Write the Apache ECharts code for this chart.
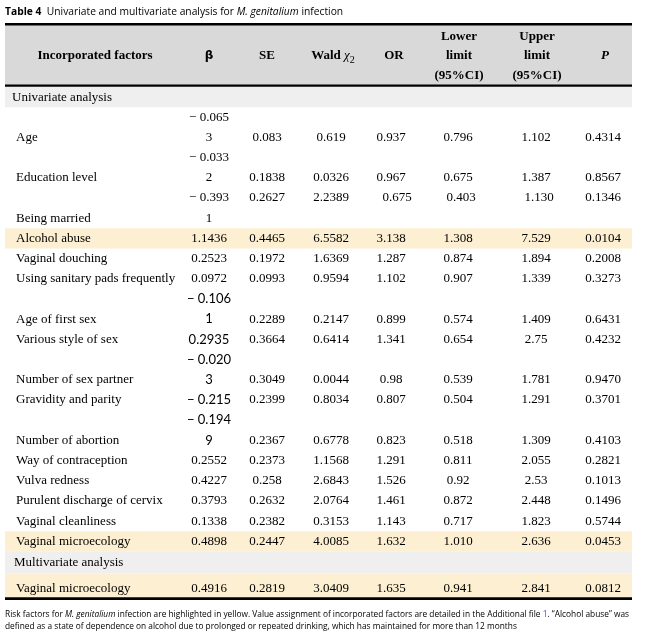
<!DOCTYPE html>
<html><head><meta charset="utf-8">
<script src="https://cdn.jsdelivr.net/npm/echarts@6/dist/echarts.min.js"></script>
<style>html,body{margin:0;padding:0;background:#fff}#c{width:646px;height:637px}</style>
</head><body><div id="c"></div>
<script>
// ===== DATA =====
const sections = ["Univariate analysis", "Multivariate analysis"];
const uniFactors = ["Age","Education level","Being married","Alcohol abuse","Vaginal douching","Using sanitary pads frequently","Age of first sex","Various style of sex","Number of sex partner","Gravidity and parity","Number of abortion","Way of contraception","Vulva redness","Purulent discharge of cervix","Vaginal cleanliness","Vaginal microecology"];
const uniBeta  = ["−0.0653","−0.0332","−0.3931","1.1436","0.2523","0.0972","−0.1061","0.2935","−0.0203","−0.215","−0.1949","0.2552","0.4227","0.3793","0.1338","0.4898"];
const uniSE    = ["0.083","0.1838","0.2627","0.4465","0.1972","0.0993","0.2289","0.3664","0.3049","0.2399","0.2367","0.2373","0.258","0.2632","0.2382","0.2447"];
const uniWald  = ["0.619","0.0326","2.2389","6.5582","1.6369","0.9594","0.2147","0.6414","0.0044","0.8034","0.6778","1.1568","2.6843","2.0764","0.3153","4.0085"];
const uniOR    = ["0.937","0.967","0.675","3.138","1.287","1.102","0.899","1.341","0.98","0.807","0.823","1.291","1.526","1.461","1.143","1.632"];
const uniLower = ["0.796","0.675","0.403","1.308","0.874","0.907","0.574","0.654","0.539","0.504","0.518","0.811","0.92","0.872","0.717","1.010"];
const uniUpper = ["1.102","1.387","1.130","7.529","1.894","1.339","1.409","2.75","1.781","1.291","1.309","2.055","2.53","2.448","1.823","2.636"];
const uniP     = ["0.4314","0.8567","0.1346","0.0104","0.2008","0.3273","0.6431","0.4232","0.9470","0.3701","0.4103","0.2821","0.1013","0.1496","0.5744","0.0453"];
const multiFactors = ["Vaginal microecology"];
const multiBeta  = ["0.4916"];
const multiSE    = ["0.2819"];
const multiWald  = ["3.0409"];
const multiOR    = ["1.635"];
const multiLower = ["0.941"];
const multiUpper = ["2.841"];
const multiP     = ["0.0812"];
const riskFactors = ["Alcohol abuse", "Vaginal microecology"]; // highlighted in yellow

// ===== LAYOUT (positions / styles only) =====
const U = 20.19;                 // px per row slot
const yMin = -3.2, yMax = 25.4;
const tableX0 = 5, tableX1 = 632;
const colX = [16, 209, 267, 331, 391, 458, 536, 603];
const headX = [95, 209, 267, 333, 394, 459, 537, 605];
const uniLabelSlot = [2,4,6,7,8,9,11,12,14,15,17,18,19,20,21,22];
const uniValueSlot = [2,4,5,7,8,9,11,12,14,15,17,18,19,20,21,22];
const betaWrap = [1,1,1,0,0,0,1,0,1,0,1,0,0,0,0,0];
const betaSans = [0,0,0,0,0,0,1,1,1,1,1,0,0,0,0,0];
const rowNudge = { 2: [0, 0, 6, 3, 3, 0] }; // px shifts of SE..P cells for a row
const multiSlot = 24.85;
const sectionSlot = [0.5, 23.55];
const sectionX = [12, 14];
const SERIF = '"Liberation Serif","Times New Roman",serif';
const SANS = 'Lato,"Noto Sans",sans-serif';
const C = { header: '#d9d9d9', section: '#efefef', risk: '#fdefd1' };

// ===== BUILD CELLS =====
const cells = [];
function cell(text, x, slot, opt) { cells.push(Object.assign({ text, x, slot }, opt || {})); }
function fmtMinus(s) { return s.replace('−', '− '); }

// header
const headers = ["Incorporated factors","β","SE","Wald","OR","Lower\nlimit\n(95%CI)","Upper\nlimit\n(95%CI)","P"];
headers.forEach((h, i) => {
  const o = { align: 'center', weight: 'bold', family: SERIF, lh: 19.5 };
  if (i === 1) { o.family = 'DejaVu Sans'; o.size = 12; }
  if (i === 3) o.rich = '{b|Wald }{c|χ}{s|2}';
  if (i === 7) o.italic = true;
  cell(h, headX[i], -1.55, o);
});
sections.forEach((s, i) => cell(s, sectionX[i], sectionSlot[i], { align: 'left' }));

const uniCols = [uniSE, uniWald, uniOR, uniLower, uniUpper, uniP];
uniFactors.forEach((f, r) => {
  const ls = uniLabelSlot[r] + 0.5, vs = uniValueSlot[r] + 0.5;
  cell(f, colX[0], ls, { align: 'left' });
  const fam = betaSans[r] ? SANS : SERIF;
  const b = fmtMinus(uniBeta[r]);
  if (betaWrap[r]) {
    cell(b.slice(0, -1), colX[1], ls - 1, { align: 'center', family: fam });
    cell(b.slice(-1), colX[1], ls, { align: 'center', family: fam });
  } else {
    cell(b, colX[1], ls, { align: 'center', family: fam });
  }
  const nd = rowNudge[r] || [0, 0, 0, 0, 0, 0];
  uniCols.forEach((arr, k) => cell(arr[r], colX[k + 2] + nd[k], vs, { align: 'center' }));
});
const multiCols = [multiBeta, multiSE, multiWald, multiOR, multiLower, multiUpper, multiP];
multiFactors.forEach((f, r) => {
  cell(f, colX[0], multiSlot, { align: 'left' });
  multiCols.forEach((arr, k) => cell(fmtMinus(arr[r]), colX[k + 1], multiSlot, { align: 'center' }));
});

// bands [slotTop, slotBottom, color]
const bands = [[-3.07, -0.1, C.header], [0, 1, C.section], [23, 24.08, C.section]];
uniFactors.forEach((f, r) => { if (riskFactors.includes(f)) bands.push([uniLabelSlot[r], uniLabelSlot[r] + 1, C.risk]); });
multiFactors.forEach((f) => { if (riskFactors.includes(f)) bands.push([24.08, 25.28, C.risk]); });
// rules [slot, width]
const rules = [[(24.2 - 87) / U, 2.6], [(85.6 - 87) / U, 2.2], [(598.6 - 87) / U, 2.6]];

const chart = echarts.init(document.getElementById('c'), null, { renderer: 'canvas' });
const gridTop = 87 + yMin * U;
chart.setOption({
  animation: false,
  backgroundColor: '#fff',
  grid: { left: 0, width: 646, top: gridTop, height: (yMax - yMin) * U },
  xAxis: { type: 'value', min: 0, max: 646, show: false },
  yAxis: { type: 'value', min: yMin, max: yMax, inverse: true, show: false },
  graphic: [
    { type: 'text', x: 5, y: 6, scaleX: 0.934, style: {
      text: '{b|Table 4}  Univariate and multivariate analysis for {i|M. genitalium} infection',
      font: '11px "Open Sans", sans-serif', fill: '#000',
      rich: { b: { fontWeight: 'bold', fontFamily: '"Open Sans",sans-serif', fontSize: 11 },
              i: { fontStyle: 'italic', fontFamily: '"Open Sans",sans-serif', fontSize: 11 } } } },
    { type: 'text', x: 5, y: 609, scaleX: 0.98, style: {
      text: 'Risk factors for {i|M. genitalium} infection are highlighted in yellow. Value assignment of incorporated factors are detailed in the Additional file {l|1}. “Alcohol abuse” was\ndefined as a state of dependence on alcohol due to prolonged or repeated drinking, which has maintained for more than 12 months',
      font: '8.5px "Open Sans", sans-serif', fill: '#000', lineHeight: 12,
      rich: { i: { fontStyle: 'italic', fontSize: 8.5, fontFamily: '"Open Sans",sans-serif' },
              l: { fill: '#2a62b8', fontSize: 8.5, fontFamily: '"Open Sans",sans-serif' } } } }
  ],
  series: [
    { type: 'custom', clip: false, z: 1, data: bands.map((b, i) => [b[0], b[1], i]),
      renderItem(params, api) {
        const b = bands[api.value(2)];
        const p0 = api.coord([tableX0, b[0]]), p1 = api.coord([tableX1, b[1]]);
        return { type: 'rect', shape: { x: p0[0], y: p0[1], width: p1[0] - p0[0], height: p1[1] - p0[1] }, style: { fill: b[2] } };
      } },
    { type: 'custom', clip: false, z: 3, data: rules.map((r, i) => [r[0], i]),
      renderItem(params, api) {
        const r = rules[api.value(1)];
        const p0 = api.coord([tableX0, r[0]]), p1 = api.coord([tableX1, r[0]]);
        return { type: 'line', shape: { x1: p0[0], y1: p0[1], x2: p1[0], y2: p1[1] }, style: { stroke: '#000', lineWidth: r[1] } };
      } },
    { type: 'custom', clip: false, z: 4, data: cells.map((c, i) => [c.x, c.slot, i]),
      renderItem(params, api) {
        const c = cells[api.value(2)];
        const p = api.coord([api.value(0), api.value(1)]);
        const style = {
          text: c.rich || c.text, x: 0, y: 0, fill: '#000',
          fontFamily: c.family || SERIF, fontSize: c.size || 13,
          fontWeight: c.weight || 'normal', fontStyle: c.italic ? 'italic' : 'normal',
          align: c.align, verticalAlign: 'middle'
        };
        if (c.lh) style.lineHeight = c.lh;
        if (c.rich) style.rich = {
          b: { fontFamily: SERIF, fontSize: 13, fontWeight: 'bold' },
          c: { fontFamily: SERIF, fontSize: 13, fontStyle: 'italic' },
          s: { fontFamily: SERIF, fontSize: 10, verticalAlign: 'bottom', padding: [4, 0, 0, 0] }
        };
        return { type: 'text', x: p[0], y: p[1], style };
      } }
  ]
});
</script></body></html>
